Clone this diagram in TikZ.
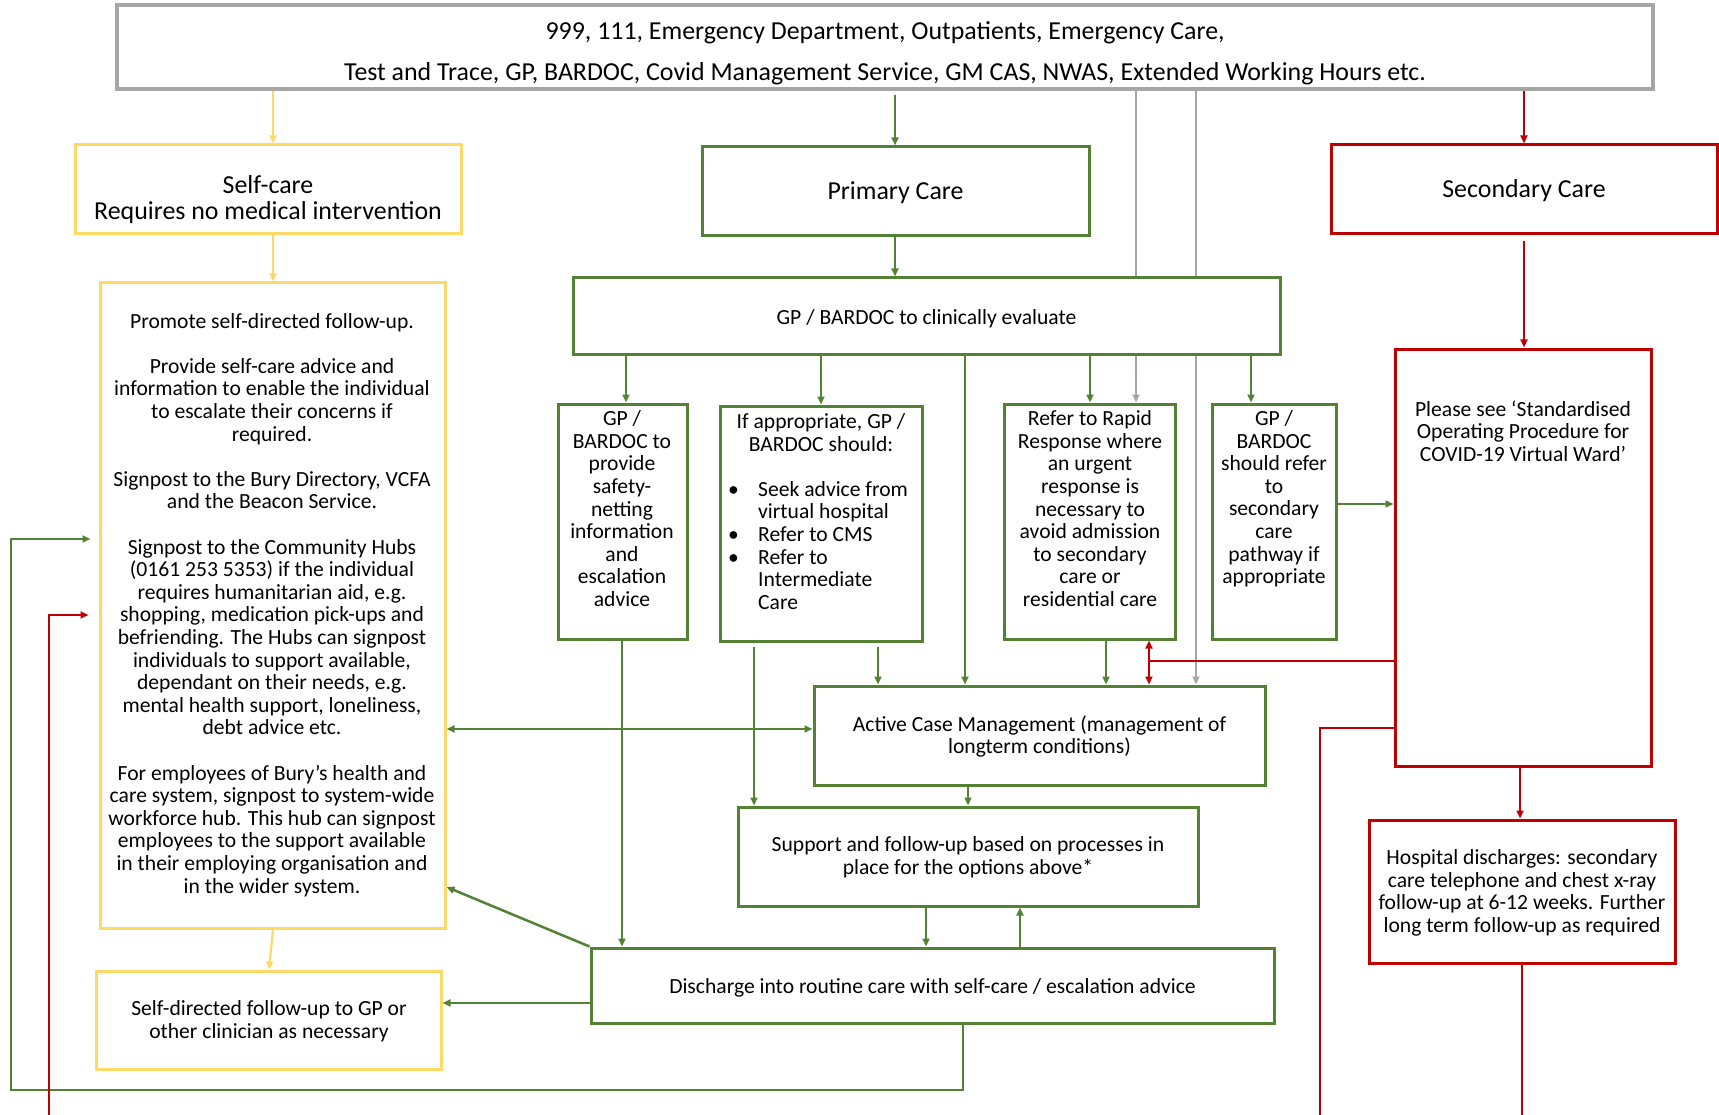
\documentclass[tikz,border=0pt]{standalone}
\usepackage{fontspec}
\setmainfont{Carlito}
\usetikzlibrary{arrows.meta}
\definecolor{gcol}{HTML}{548235}
\definecolor{ycol}{HTML}{FFD966}
\definecolor{rcol}{HTML}{C00000}
\definecolor{kcol}{HTML}{A6A6A6}
\pgfdeclarelayer{bg}
\pgfsetlayers{bg,main}
\newcommand{\tightstrut}{\lineskiplimit=-50pt\relax\strut}
\begin{document}
\begin{tikzpicture}[x=1pt,y=-1pt,
  box/.style={draw, rectangle, line width=3pt, fill=white, inner sep=0pt},
  gbox/.style={box, draw=gcol},
  ybox/.style={box, draw=ycol},
  rbox/.style={box, draw=rcol},
  kbox/.style={box, draw=kcol, line width=3.5pt},
  txt/.style={inner sep=0pt, align=center, yshift=-2.5pt,
    font=\fontsize{21.6}{22.6}\selectfont,
    execute at begin node=\tightstrut, execute at end node=\strut},
  bigtxt/.style={inner sep=0pt, align=center, yshift=-2.5pt,
    font=\fontsize{25.9}{26}\selectfont,
    execute at begin node=\tightstrut, execute at end node=\strut},
  tip/.style={-{Triangle[length=8pt,width=7pt]}},
  both/.style={{Triangle[length=8pt,width=7pt]}-{Triangle[length=8pt,width=7pt]}},
  gl/.style={draw=gcol, line width=2.5pt},
  yl/.style={draw=ycol, line width=2.2pt},
  rl/.style={draw=rcol, line width=2.8pt},
  kl/.style={draw=kcol, line width=2.2pt}]
\useasboundingbox (0,0) rectangle (1719,1115);

% boxes
\node[kbox, minimum width=1536, minimum height=84] (top) at (885,47) {};
\node[ybox, minimum width=386, minimum height=89] (selfcare) at (268,189.5) {};
\node[ybox, minimum width=345, minimum height=645] (big) at (272.5,605.5) {};
\node[ybox, minimum width=345, minimum height=98] (seldir) at (268.5,1020) {};
\node[gbox, minimum width=387, minimum height=89] (primary) at (895.5,191.5) {};
\node[rbox, minimum width=386, minimum height=89] (secondary) at (1524,189.5) {};
\node[gbox, minimum width=707, minimum height=76] (eval) at (926.5,316) {};
\node[gbox, minimum width=129, minimum height=235] (gpa) at (622.5,521.5) {};
\node[gbox, minimum width=202, minimum height=235] (gpb) at (821,523.5) {};
\node[gbox, minimum width=171, minimum height=235] (rr) at (1089.5,521.5) {};
\node[gbox, minimum width=124, minimum height=235] (gpe) at (1274,521.5) {};
\node[rbox, minimum width=256, minimum height=417] (vw) at (1523,557.5) {};
\node[gbox, minimum width=451, minimum height=99] (acm) at (1039.5,735.5) {};
\node[gbox, minimum width=460, minimum height=99] (support) at (968,856.5) {};
\node[rbox, minimum width=306, minimum height=143] (hosp) at (1522,891.5) {};
\node[gbox, minimum width=683, minimum height=75] (disch) at (932.5,985.5) {};

% texts
\node[bigtxt] (topt) at (885,52.5) {999, 111, Emergency Department, Outpatients, Emergency Care,\\[15pt]
  Test and Trace, GP, BARDOC, Covid Management Service, GM CAS, NWAS, Extended Working Hours etc.};
\node[bigtxt] (selfcaret) at (268,199) {Self-care\\Requires no medical intervention};
\node[bigtxt] (primaryt) at (895.5,192) {Primary Care};
\node[bigtxt] (secondaryt) at (1524,190) {Secondary Care};
\node[txt] (bigt) at (272,604) {Promote self-directed follow-up.\\[22.6pt]
  Provide self-care advice and\\
  information to enable the individual\\
  to escalate their concerns if\\
  required.\\[22.6pt]
  Signpost to the Bury Directory, VCFA\\
  and the Beacon Service.\\[22.6pt]
  Signpost to the Community Hubs\\
  (0161 253 5353) if the individual\\
  requires humanitarian aid, e.g.\\
  shopping, medication pick-ups and\\
  befriending. The Hubs can signpost\\
  individuals to support available,\\
  dependant on their needs, e.g.\\
  mental health support, loneliness,\\
  debt advice etc.\\[22.6pt]
  For employees of Bury’s health and\\
  care system, signpost to system-wide\\
  workforce hub. This hub can signpost\\
  employees to the support available\\
  in their employing organisation and\\
  in the wider system.};
\node[txt] (seldirt) at (269,1020.5) {Self-directed follow-up to GP or\\other clinician as necessary};
\node[txt] (evalt) at (926.5,317) {GP / BARDOC to clinically evaluate};
\node[txt] (gpat) at (622,509.5) {GP /\\BARDOC to\\provide\\safety-\\netting\\information\\and\\escalation\\advice};
\node[txt] (gpbt) at (821,433.25) {If appropriate, GP /\\BARDOC should:};
\node[inner sep=0pt, anchor=west, yshift=-2.5pt, font=\fontsize{21.6}{22.6}\selectfont] (gpbl) at (728,545.75) {%
  \begin{tabular}{@{}l@{}l@{}}
  \makebox[30pt][l]{•} & Seek advice from\\
  & virtual hospital\\
  \makebox[30pt][l]{•} & Refer to CMS\\
  \makebox[30pt][l]{•} & Refer to\\
  & Intermediate\\
  & Care
  \end{tabular}};
\node[txt] (rrt) at (1090,509.5) {Refer to Rapid\\Response where\\an urgent\\response is\\necessary to\\avoid admission\\to secondary\\care or\\residential care};
\node[txt] (gpet) at (1274,498) {GP /\\BARDOC\\should refer\\to\\secondary\\care\\pathway if\\appropriate};
\node[txt] (vwt) at (1523,432) {Please see ‘Standardised\\Operating Procedure for\\COVID-19 Virtual Ward’};
\node[txt] (acmt) at (1039.5,735.5) {Active Case Management (management of\\longterm conditions)};
\node[txt] (supportt) at (968,856.5) {Support and follow-up based on processes in\\place for the options above*};
\node[txt] (hospt) at (1522,892) {Hospital discharges: secondary\\care telephone and chest x-ray\\follow-up at 6-12 weeks. Further\\long term follow-up as required};
\node[txt] (discht) at (932.5,986) {Discharge into routine care with self-care / escalation advice};

% free ends and bends
\coordinate (gbend) at (11,1090);
\coordinate (rjoin) at (1149,661);
\coordinate (rfreeA) at (1320,1115);
\coordinate (rfreeB) at (1522,1115);
\coordinate (rfreeC) at (49,1115);

\begin{pgfonlayer}{bg}
\fill[white] (0,0) rectangle (1719,1115);
% yellow
\draw[yl,tip] (top.south -| 273,0) -- (selfcare.north -| 273,0);
\draw[yl,tip] (selfcare.south -| 273,0) -- (big.north -| 273,0);
\draw[yl,tip] (big.south -| 273,0) -- (seldir.north -| 269,0);
% gray
\draw[kl,tip] (top.south -| 1136,0) -- (rr.north -| 1136,0);
\draw[kl,tip] (top.south -| 1196,0) -- (acm.north -| 1196,0);
% green
\draw[gl,tip,shorten <=4pt] (top.south -| 895,0) -- (primary.north -| 895,0);
\draw[gl,tip] (primary.south -| 895,0) -- (eval.north -| 895,0);
\draw[gl,tip] (eval.south -| 626,0) -- (gpa.north -| 626,0);
\draw[gl,tip] (eval.south -| 821,0) -- (gpb.north -| 821,0);
\draw[gl,tip] (eval.south -| 965,0) -- (acm.north -| 965,0);
\draw[gl,tip] (eval.south -| 1090,0) -- (rr.north -| 1090,0);
\draw[gl,tip] (eval.south -| 1251,0) -- (gpe.north -| 1251,0);
\draw[gl,tip] (gpe.east |- 0,504) -- (vw.west |- 0,504);
\draw[gl,tip] (rr.south -| 1106,0) -- (acm.north -| 1106,0);
\draw[gl,tip,shorten <=4pt] (gpb.south -| 878,0) -- (acm.north -| 878,0);
\draw[gl,tip,shorten <=4pt] (gpb.south -| 754,0) -- (support.north -| 754,0);
\draw[gl,tip] (gpa.south -| 622,0) -- (disch.north -| 622,0);
\draw[gl,both] (big.east |- 0,729) -- (acm.west |- 0,729);
\draw[gl,tip] (acm.south -| 968,0) -- (support.north -| 968,0);
\draw[gl,tip] (support.south -| 926,0) -- (disch.north -| 926,0);
\draw[gl,tip] (disch.north -| 1020,0) -- (support.south -| 1020,0);
\draw[gl,tip] (disch.north west) -- (big.east |- 0,887);
\draw[gl,tip] (disch.west |- 0,1003) -- (seldir.east |- 0,1003);
\draw[gl,tip,shorten >=8pt] (disch.south -| 963,0) |- (gbend) |- (big.west |- 0,539);
% red
\draw[rl,tip] (top.south -| 1524,0) -- (secondary.north);
\draw[rl,tip,shorten <=6pt] (secondary.south) -- (vw.north -| 1524,0);
\draw[rl] (vw.west |- rjoin) -- (rjoin);
\draw[rl,both] (rr.south -| rjoin) -- (acm.north -| rjoin);
\draw[rl] (vw.west |- 0,728) -| (rfreeA);
\draw[rl,tip] (vw.south -| 1520,0) -- (hosp.north -| 1520,0);
\draw[rl] (hosp.south -| rfreeB) -- (rfreeB);
\draw[rl,tip,shorten >=10pt] (rfreeC) |- (big.west |- 0,615);
\end{pgfonlayer}
\end{tikzpicture}
\end{document}
